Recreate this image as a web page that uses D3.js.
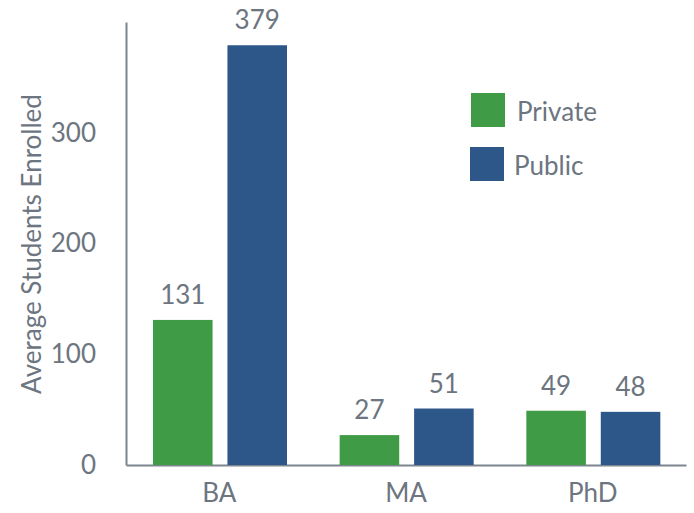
<!DOCTYPE html>
<html>
<head>
<meta charset="utf-8">
<script src="https://cdn.jsdelivr.net/npm/d3@7"></script>
<style>
  body { margin: 0; background: #fff; }
  text { font-family: Lato, "Open Sans", sans-serif; fill: #6c7580; }
</style>
</head>
<body>
<div id="chart"></div>
<script>
// data
var degrees = ["BA", "MA", "PhD"];
var sectors = ["Private", "Public"];
var privateValues = [131, 27, 49];
var publicValues = [379, 51, 48];
var yTicks = [0, 100, 200, 300];
var colors = ["#409b46", "#2d5789"];

var rows = degrees.map(function(d, i) {
  return {degree: d, values: [privateValues[i], publicValues[i]]};
});

var W = 694, H = 513;
var margin = {top: 22, right: 8, bottom: 48, left: 126};
var width = W - margin.left - margin.right,
    height = H - margin.top - margin.bottom;

var svg = d3.select("#chart").append("svg")
  .attr("width", W).attr("height", H)
  .append("g")
  .attr("transform", "translate(" + margin.left + "," + margin.top + ")");

var x = d3.scaleBand().domain(degrees).range([0, width]).padding(0);
var xInner = d3.scaleBand().domain(sectors).range([27, 161]).paddingInner(0.2);
var y = d3.scaleLinear().domain([0, 400]).range([height, 0]);

// axes
var xAxis = svg.append("g")
  .attr("transform", "translate(0," + height + ")")
  .call(d3.axisBottom(x).tickSize(0).tickPadding(19));
var yAxis = svg.append("g")
  .call(d3.axisLeft(y).tickValues(yTicks).tickSize(0).tickPadding(30));
[xAxis, yAxis].forEach(function(a) {
  a.select(".domain").attr("stroke", "#7d868f").attr("stroke-width", 2);
  a.selectAll("text").style("font-size", "26px").attr("fill", "#6c7580");
});

svg.append("text")
  .attr("transform", "rotate(-90)")
  .attr("x", -222)
  .attr("y", -85)
  .attr("text-anchor", "middle")
  .style("font-size", "26px")
  .text("Average Students Enrolled");

// bars
var groups = svg.selectAll(".grp").data(rows).enter().append("g")
  .attr("transform", function(d) { return "translate(" + x(d.degree) + ",0)"; });

groups.selectAll("rect")
  .data(function(d) { return d.values.map(function(v, i) { return {s: sectors[i], v: v, i: i}; }); })
  .enter().append("rect")
  .attr("x", function(d) { return xInner(d.s); })
  .attr("y", function(d) { return y(d.v); })
  .attr("width", xInner.bandwidth())
  .attr("height", function(d) { return height - y(d.v); })
  .attr("fill", function(d) { return colors[d.i]; });

groups.selectAll(".lbl")
  .data(function(d) { return d.values.map(function(v, i) { return {s: sectors[i], v: v}; }); })
  .enter().append("text")
  .attr("x", function(d) { return xInner(d.s) + xInner.bandwidth() / 2; })
  .attr("y", function(d) { return y(d.v) - 16; })
  .attr("text-anchor", "middle")
  .style("font-size", "26px")
  .text(function(d) { return d.v; });

// legend
var legend = svg.selectAll(".leg").data(sectors).enter().append("g")
  .attr("transform", function(d, i) { return "translate(" + (345 - i) + "," + (71 + i * 54) + ")"; });
legend.append("rect").attr("width", 34).attr("height", 34)
  .attr("fill", function(d, i) { return colors[i]; });
legend.append("text")
  .attr("x", function(d, i) { return 46 - i * 2; })
  .attr("y", 19).attr("dy", "0.35em")
  .style("font-size", "26px")
  .text(function(d) { return d; });
</script>
</body>
</html>
